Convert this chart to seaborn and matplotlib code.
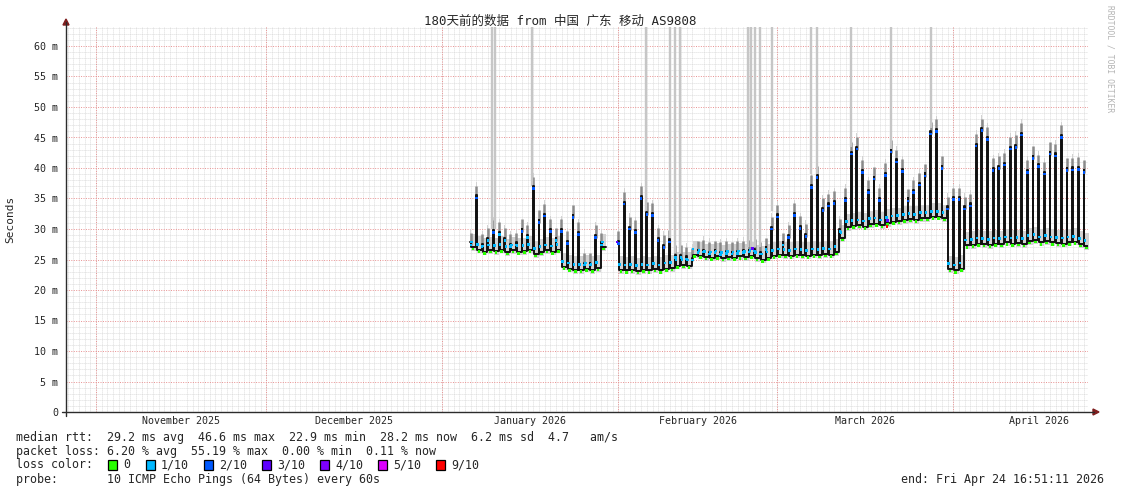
import numpy as np
import pandas as pd
import matplotlib
matplotlib.use("Agg")
import matplotlib.pyplot as plt
import matplotlib.dates as mdates
import seaborn as sns
from matplotlib.lines import Line2D
from matplotlib.patches import Polygon, Rectangle

# ---------------- data ----------------
first_day = "2026-01-06"          # first day with data
range_start = "2025-10-26 16:51:11"
range_end = "2026-04-24 16:51:11"

# daily evening peak of the median RTT (ms) and the trough level after it
peak_ms = [27.8, 35.5, 27.5, 28.5, 29.8, 29.5, 28.5, 27.5, 27.8, 30.0,
           29.0, 37.0, 31.5, 32.5, 30.0, 28.5, 30.0, 28.0, 32.3, 29.5,
           24.5, 24.5, 29.0, 27.8, np.nan, np.nan, 28.0, 34.5, 30.4, 29.8,
           35.4, 32.8, 32.6, 28.5, 27.4, 28.3, 25.7, 25.7, 25.5, 25.3,
           26.5, 26.6, 26.3, 26.5, 26.2, 26.4, 26.3, 26.4, 26.5, 26.6,
           26.8, 26.3, 27.0, 30.4, 32.4, 27.8, 29.0, 32.6, 30.5, 29.2,
           37.2, 38.8, 33.4, 34.2, 34.6, 30.0, 35.1, 42.7, 43.5, 39.7,
           36.4, 38.6, 35.1, 39.2, 43.0, 41.4, 39.8, 35.0, 36.4, 37.6,
           39.1, 46.0, 46.4, 40.3, 33.7, 35.2, 35.2, 33.7, 34.2, 44.0,
           46.5, 45.1, 40.0, 40.3, 40.9, 43.5, 43.8, 45.8, 39.7, 42.0,
           40.6, 39.4, 42.7, 42.4, 45.4, 40.0, 40.1, 40.2, 39.7]
base_ms = [27.0, 26.6, 26.3, 26.5, 26.4, 26.6, 26.2, 26.5, 26.3, 26.4,
           26.6, 25.9, 26.2, 26.5, 26.3, 26.6, 23.8, 23.5, 23.3, 23.3,
           23.5, 23.3, 23.6, 27.0, np.nan, np.nan, 23.3, 23.2, 23.3, 23.1,
           23.3, 23.2, 23.4, 23.2, 23.5, 23.6, 24.0, 24.1, 24.0, 25.8,
           25.6, 25.4, 25.3, 25.5, 25.2, 25.4, 25.3, 25.5, 25.4, 25.6,
           25.2, 25.0, 25.3, 25.6, 25.8, 25.7, 25.6, 25.8, 25.7, 25.6,
           25.8, 25.7, 25.9, 25.8, 26.2, 28.5, 30.3, 30.5, 30.6, 30.4,
           30.8, 30.9, 30.6, 31.0, 31.2, 31.3, 31.5, 31.6, 31.5, 31.8,
           31.8, 32.0, 32.0, 31.8, 23.4, 23.2, 23.5, 27.3, 27.4, 27.6,
           27.5, 27.4, 27.6, 27.5, 27.8, 27.6, 27.7, 27.5, 28.0, 28.2,
           27.8, 28.0, 27.8, 27.7, 27.6, 27.8, 27.9, 27.5, 27.2]

# isolated high-RTT smoke bars (day offset from first_day, lower end in ms)
spike_day = [3.8, 4.3, 10.8, 30.9, 35.0, 35.9, 36.8, 48.8, 49.3, 50.0,
             50.9, 53.0, 60.0, 61.0, 67.0, 74.0, 81.1]
spike_low_ms = [30, 30, 37, 33, 26, 26, 26, 27, 27, 27,
                27, 33, 39, 33.5, 43.5, 43, 46.5]

# occasional loss-coloured samples
loss_event_day = [25.75, 49.6, 73.3, 73.4]
loss_event_ms = [27.9, 26.8, 30.4, 31.4]
loss_event_cls = ["3/10", "3/10", "9/10", "3/10"]

loss_labels = ["0", "1/10", "2/10", "3/10", "4/10", "5/10", "9/10"]
loss_colors = ["#26ff00", "#00b8ff", "#0059ff", "#5e00ff", "#7e00ff", "#dd00ff", "#ff0000"]

month_labels = ["November 2025", "December 2025", "January 2026",
                "February 2026", "March 2026", "April 2026"]
month_starts = ["2025-11-01", "2025-12-01", "2026-01-01", "2026-02-01",
                "2026-03-01", "2026-04-01", "2026-05-01"]

title = "180天前的数据 from 中国 广东 移动 AS9808"
stat_lines = [
    "median rtt:  29.2 ms avg  46.6 ms max  22.9 ms min  28.2 ms now  6.2 ms sd  4.7   am/s",
    "packet loss: 6.20 % avg  55.19 % max  0.00 % min  0.11 % now",
    "loss color:",
    "probe:       10 ICMP Echo Pings (64 Bytes) every 60s",
]
end_text = "end: Fri Apr 24 16:51:11 2026"

# ---------------- build series ----------------
day0 = pd.Timestamp(first_day)
days = day0 + pd.to_timedelta(np.arange(len(peak_ms)), unit="D")
hw = pd.Timedelta(hours=1.7)
rows = []
seg = 0
prev_nan = False
for day, pk, bs in zip(days, peak_ms, base_ms):
    if np.isnan(pk):
        if not prev_nan:
            seg += 1
        prev_nan = True
        continue
    prev_nan = False
    rows.append((day - hw, pk, seg))
    rows.append((day + hw, bs, seg))
    rows.append((day + pd.Timedelta(hours=20.4), bs, seg))
df = pd.DataFrame(rows, columns=["time", "rtt", "seg"])

mk = []
for day, pk, bs in zip(days, peak_ms, base_ms):
    if np.isnan(pk):
        continue
    mk.append((day + pd.Timedelta(hours=10), bs - 0.3, "0"))
    mk.append((day + pd.Timedelta(hours=4), bs + 0.9, "1/10"))
    mk.append((day, pk - 0.4, "2/10" if pk - bs > 3 else "1/10"))
for dd, v, c in zip(loss_event_day, loss_event_ms, loss_event_cls):
    mk.append((day0 + pd.Timedelta(days=dd), v, c))
mdf = pd.DataFrame(mk, columns=["time", "rtt", "loss"])

# ---------------- figure ----------------
W, H = 1121, 494
sns.set_style("white")
plt.rcParams["font.family"] = ["DejaVu Sans Mono", "Noto Sans CJK SC"]
fig = plt.figure(figsize=(W / 100, H / 100), dpi=100)
fig.patch.set_facecolor("white")
L, R, T, B = 66, 1088, 27, 412
ax = fig.add_axes([L / W, 1 - B / H, (R - L) / W, (B - T) / H])
ax.set_facecolor("white")

x0 = mdates.date2num(pd.Timestamp(range_start))
x1 = mdates.date2num(pd.Timestamp(range_end))

# smoke
for s, g in df.groupby("seg"):
    ax.fill_between(mdates.date2num(g["time"]), g["rtt"] - 0.6, g["rtt"] + 2.2,
                    step="post", color="#d2d2d2", lw=0, zorder=2)
spk_t = mdates.date2num(days - hw / 2)
ax.vlines(spk_t, np.array(peak_ms) - 0.5, np.array(peak_ms) + 1.6,
          color="#8a8a8a", lw=1.8, zorder=2)
ax.vlines(mdates.date2num(day0 + pd.to_timedelta(spike_day, unit="D")),
          spike_low_ms, 63.5, color="#c6c6c6", lw=1.7, zorder=2)

sns.lineplot(data=df, x="time", y="rtt", units="seg", estimator=None, sort=False,
             drawstyle="steps-post", color="#111111", lw=1.4, ax=ax, zorder=3,
             legend=False)
sns.scatterplot(data=mdf, x="time", y="rtt", hue="loss", palette=dict(zip(loss_labels, loss_colors)),
                marker="s", s=3.5, linewidth=0, ax=ax, zorder=4, legend=False)

ax.set_xlim(x0, x1)
ax.set_ylim(0, (B - T) / 6.1)
ax.set_xlabel("")
ax.set_ylabel("")

# grids
ax.set_yticks(np.arange(0, 61, 5))
ax.set_yticks(np.arange(0, 64, 1), minor=True)
ax.set_yticklabels(["0" if v == 0 else f"{v} m" for v in range(0, 61, 5)])
ms = [pd.Timestamp(m) for m in month_starts]
mids = [mdates.date2num(a + (b - a) / 2) for a, b in zip(ms[:-1], ms[1:])]
ax.set_xticks(mids)
ax.set_xticklabels(month_labels)
ax.xaxis.set_minor_locator(mdates.DayLocator())
ax.grid(False)
ax.grid(which="minor", axis="both", color="#d0d0d0", lw=0.6, ls=(0, (1, 1.4)), zorder=0)
ax.grid(which="major", axis="y", color="#e89090", lw=0.7, ls=(0, (1, 1.5)), zorder=1)
for m in ms[:-1]:
    ax.axvline(mdates.date2num(m), color="#e89090", lw=0.7, ls=(0, (1, 1.5)), zorder=1)
ax.set_axisbelow(True)
ax.tick_params(axis="x", which="major", length=0, pad=3, labelsize=7.2)
ax.tick_params(axis="x", which="minor", length=2, width=0.6, color="#777777", direction="inout")
ax.tick_params(axis="y", which="major", length=3, width=0.7, color="#555555", direction="inout",
               labelsize=7.2, pad=4)
ax.tick_params(axis="y", which="minor", length=2, width=0.6, color="#777777", direction="inout")
for sp in ax.spines.values():
    sp.set_visible(False)


def fx(x):
    return x / W


def fy(y):
    return 1 - y / H


# axes with arrows
axis_col = "#2c2c2c"
arrow_col = "#7f1f1f"
fig.add_artist(Line2D([fx(L), fx(L)], [fy(B + 4), fy(22)], color=axis_col, lw=1.0))
fig.add_artist(Line2D([fx(L - 4), fx(1094)], [fy(B), fy(B)], color=axis_col, lw=1.0))
fig.add_artist(Polygon([[fx(L - 3), fy(25)], [fx(L + 3), fy(25)], [fx(L), fy(19)]],
                       closed=True, color=arrow_col, transform=fig.transFigure))
fig.add_artist(Polygon([[fx(1093), fy(B - 3)], [fx(1093), fy(B + 3)], [fx(1099), fy(B)]],
                       closed=True, color=arrow_col, transform=fig.transFigure))

cjk = ["DejaVu Sans Mono", "Noto Sans CJK SC"]
fig.text(fx(560), fy(21), title, ha="center", va="center", fontsize=9.0, family=cjk)
fig.text(fx(10), fy(219), "Seconds", rotation=90, ha="center", va="center", fontsize=8)
fig.text(fx(1110), fy(59), "RRDTOOL / TOBI OETIKER", rotation=270, ha="center", va="center",
         fontsize=5.8, color="#b4b4b4")

row_y = [437, 451, 465, 479]
for txt, yy in zip(stat_lines, row_y):
    fig.text(fx(16), fy(yy), txt, ha="left", va="center", fontsize=8.4)
fig.text(fx(1104), fy(479), end_text, ha="right", va="center", fontsize=8.4)

sq_x = [108, 146, 204, 262, 320, 378, 436]
for sx, lab, col in zip(sq_x, loss_labels, loss_colors):
    fig.add_artist(Rectangle((fx(sx), fy(470)), 9 / W, 10 / H, facecolor=col,
                             edgecolor="black", lw=0.9, transform=fig.transFigure))
    fig.text(fx(sx + 15), fy(465), lab, ha="left", va="center", fontsize=8.4)

fig.savefig("out.png", dpi=100, facecolor="white")
